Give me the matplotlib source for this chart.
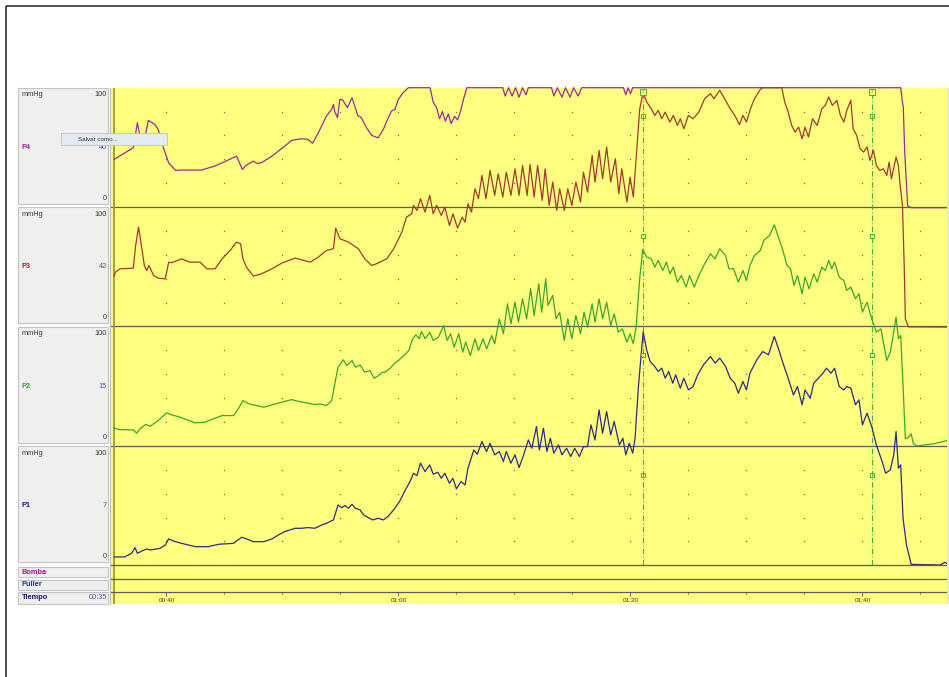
import numpy as np
import matplotlib
matplotlib.use("Agg")
import matplotlib.pyplot as plt
from matplotlib.patches import Rectangle
from matplotlib.ticker import FixedLocator, MultipleLocator

plt.rcParams['font.family'] = ['Liberation Sans', 'DejaVu Sans']

# ---------------- recorded channels: time (s) and pressure (mmHg) ----------------
P4_T = [35.5, 37.15, 37.5, 37.7, 38.2, 38.45, 39.0, 39.3, 39.7, 40.2, 40.45, 40.8, 41.2, 43.0,
        44.2, 46.05, 46.55, 46.9, 47.5, 47.8, 48.2, 49.1, 50.2, 50.8, 51.65, 52.2, 52.6, 53.1,
        53.8, 54.25, 54.4, 54.5, 54.75, 54.95, 55.2, 55.6, 56.0, 56.5, 56.8, 57.25, 57.7, 58.25,
        58.7, 59.0, 59.4, 59.7, 60.0, 60.4, 60.86, 62.73, 63.0, 63.3, 63.55, 63.8, 64.05, 64.3,
        64.55, 64.85, 65.1, 65.35, 65.6, 65.9, 69.0, 69.2, 69.5, 69.8, 70.1, 70.4, 70.7, 71.0,
        71.2, 73.2, 73.4, 73.7, 74.1, 74.4, 74.8, 75.1, 75.5, 75.8, 79.4, 79.6, 79.8, 80.0,
        80.2, 103.3, 103.45, 103.52, 103.65, 103.9, 104.2, 107.3]
P4_V = [40, 49.7, 70.7, 60.9, 60.9, 72.6, 69.3, 65, 51, 37, 34.4, 30.7, 31, 31,
        34.4, 42.7, 31.6, 35.2, 38.5, 36.6, 37.2, 42.7, 51, 55.9, 57.3, 56.7, 53.4, 62.3,
        76.3, 81.8, 86, 80.4, 74.9, 90.2, 89.7, 83.2, 91.6, 76.8, 74.9, 66.5, 60, 58,
        65, 72, 80.4, 81.8, 90.2, 95.8, 100, 100, 88, 83, 74, 80, 72, 78,
        70, 76, 73, 80, 90, 100, 100, 93, 100, 93, 100, 92, 100, 94,
        100, 100, 93, 100, 92, 100, 92, 100, 93, 100, 100, 94, 100, 95,
        100, 100, 88, 84, 45, 1, -0.5, -0.5]

P3_T = [35.5, 35.6, 36.0, 37.15, 37.35, 37.6, 37.8, 38.1, 38.3, 38.5, 38.9, 39.3, 39.9, 40.2,
        40.45, 41.3, 42.0, 42.9, 43.5, 44.2, 44.8, 45.5, 46.05, 46.4, 46.6, 46.9, 47.5, 48.2,
        49.1, 49.95, 51.1, 52.4, 53.1, 53.8, 54.4, 54.6, 54.95, 55.7, 56.55, 57.1, 57.7, 58.1,
        58.7, 59.0, 59.6, 60.3, 60.7, 61.15, 61.3, 61.6, 61.9, 62.3, 62.7, 63.0, 63.3, 63.7,
        64.0, 64.4, 64.7, 65.1, 65.5, 65.75, 66.0, 66.3, 66.6, 66.9, 67.2, 67.55, 67.9, 68.3,
        68.6, 69.0, 69.3, 69.7, 70.05, 70.4, 70.7, 71.1, 71.35, 71.7, 72.0, 72.4, 72.65, 73.0,
        73.3, 73.65, 73.9, 74.3, 74.6, 74.95, 75.3, 75.7, 75.95, 76.3, 76.7, 76.95, 77.3, 77.6,
        77.95, 78.3, 78.7, 79.0, 79.25, 79.7, 79.97, 80.25, 80.55, 80.8, 81.1, 81.4, 81.8, 82.1,
        82.4, 82.7, 83.0, 83.4, 83.7, 84.05, 84.3, 84.6, 85.0, 85.4, 85.9, 86.4, 86.9, 87.2,
        87.7, 88.2, 88.6, 89.0, 89.4, 89.7, 90.0, 90.4, 90.7, 91.2, 91.4, 93.05, 93.3, 93.6,
        93.9, 94.2, 94.5, 94.8, 95.05, 95.35, 95.7, 96.1, 96.5, 96.8, 97.1, 97.4, 97.8, 98.1,
        98.4, 98.65, 99.0, 99.2, 99.5, 99.8, 100.1, 100.4, 100.65, 100.95, 101.2, 101.5, 101.8, 102.1,
        102.3, 102.5, 102.9, 103.1, 103.25, 103.45, 103.6, 103.7, 103.96, 107.3]
P3_V = [42, 45.5, 48.3, 48.9, 67.9, 83.2, 70.7, 51.1, 46.9, 51.1, 42.7, 40.5, 39.9, 53.9,
        53.4, 56.7, 53.9, 53.9, 48.3, 48.3, 56.7, 63.7, 70.7, 69.3, 56.7, 49.7, 42.2, 44.1,
        48.3, 53.1, 57.3, 53.9, 58.1, 63.7, 65.1, 82.4, 73.5, 70.7, 65.1, 56.7, 51.1, 52.5,
        55.3, 56.7, 65.1, 79.1, 91.6, 94.4, 101.4, 97.2, 107, 95.8, 109.8, 94.4, 101.4, 93,
        100, 84.6, 94.4, 82.4, 91.6, 87.4, 102.8, 95.8, 115.4, 107, 126.5, 107, 130.7, 109.8,
        127.9, 108.4, 129.3, 109.8, 132.1, 109.8, 134.9, 109.8, 135.8, 108.4, 134.9, 105.6, 132.1, 101.4,
        121, 97.2, 115.4, 97.2, 115.4, 101.4, 121, 104.2, 129.3, 112.6, 143.3, 121, 147.5, 123.7,
        150.3, 121, 140.5, 111.2, 132.1, 104.2, 125.1, 108.4, 148.9, 182, 196.4, 188, 182.4, 176.8,
        181, 174, 179.6, 171.2, 176.8, 168.4, 174, 165.6, 176.8, 174, 179.6, 190.8, 195, 190.8,
        197.8, 189.4, 182.4, 176.8, 169, 176.8, 171.2, 183.8, 190.8, 198.6, 200, 200, 188, 179.6,
        168.4, 162.8, 167, 157.3, 167, 158.7, 174, 168.4, 182.4, 185.2, 192.2, 185.2, 189.4, 176.8,
        171.2, 181, 189.4, 165.6, 160.1, 148.9, 146.1, 150.3, 139.1, 147.5, 134.9, 130.7, 132.1, 126.5,
        137.7, 123.7, 141.9, 134.9, 118.2, 101.4, 51.1, 6.4, -0.3, -0.5]

P2_T = [35.5, 35.9, 37.15, 37.45, 37.7, 38.2, 38.6, 39.3, 40.0, 40.45, 41.0, 42.5, 43.3, 43.9,
        44.8, 45.8, 46.2, 46.6, 47.1, 47.5, 48.4, 49.4, 50.8, 51.4, 52.2, 52.8, 53.25, 53.8,
        54.25, 54.6, 54.8, 55.25, 55.55, 56.0, 56.3, 56.7, 57.1, 57.55, 57.9, 58.3, 58.6, 58.85,
        59.3, 59.7, 60.0, 60.4, 60.9, 61.2, 61.5, 61.8, 62.0, 62.3, 62.7, 63.0, 63.45, 63.9,
        64.2, 64.5, 64.8, 65.2, 65.55, 65.8, 66.2, 66.6, 66.9, 67.3, 67.6, 68.05, 68.3, 68.7,
        69.05, 69.4, 69.7, 70.05, 70.35, 70.7, 71.05, 71.4, 71.7, 72.1, 72.35, 72.7, 72.9, 73.3,
        73.6, 73.9, 74.3, 74.6, 74.95, 75.3, 75.7, 76.0, 76.3, 76.7, 76.95, 77.3, 77.6, 77.95,
        78.3, 78.6, 78.95, 79.3, 79.7, 79.97, 80.25, 80.5, 80.8, 81.06, 81.4, 81.8, 82.1, 82.4,
        82.8, 83.1, 83.4, 83.7, 84.05, 84.4, 84.8, 85.1, 85.5, 85.9, 86.4, 86.9, 87.3, 87.7,
        88.2, 88.5, 88.9, 89.3, 89.7, 90.0, 90.3, 90.7, 91.2, 91.5, 92.0, 92.4, 92.75, 93.1,
        93.5, 93.8, 94.1, 94.4, 94.8, 95.05, 95.4, 95.8, 96.1, 96.5, 96.8, 97.1, 97.35, 97.6,
        98.0, 98.4, 98.65, 99.0, 99.4, 99.7, 100.0, 100.4, 100.8, 101.2, 101.6, 101.8, 102.1, 102.4,
        102.7, 102.9, 103.1, 103.3, 103.5, 103.7, 103.96, 104.2, 104.4, 104.7, 106.1, 107.3]
P2_V = [15, 13.7, 13.4, 10.6, 14.2, 17.9, 16.5, 21.2, 27.7, 26, 24.6, 19.3, 19.8, 22.1,
        25.4, 25.4, 31, 38, 35.2, 34.4, 32.4, 35.2, 38.8, 37.2, 35.8, 34.6, 35.2, 33.8,
        38, 56.1, 65.9, 72.1, 67.3, 71.5, 65.9, 67.9, 61.7, 63.1, 56.7, 58.9, 61.7, 61.7,
        65.1, 69.6, 71.5, 75.1, 79.9, 89.1, 93, 89.7, 95.8, 89.7, 95.3, 88.3, 91.1, 100.8,
        88.3, 93.9, 82.7, 93.9, 78.5, 86.9, 75.7, 89.7, 79.9, 89.7, 81.3, 92.5, 85.5, 106.4,
        93.9, 119, 102.2, 120.4, 103.6, 123.2, 106.4, 131.6, 109.2, 135.8, 112, 140, 117.6, 126,
        106.4, 112, 88.3, 106.4, 89.7, 109.2, 93.9, 112, 99.4, 119, 103.6, 123.2, 106.4, 120.4,
        100.8, 110.6, 95.3, 98, 86.9, 93.9, 85.5, 100.8, 140, 164.5, 158.1, 156.7, 149.7, 155.3,
        146.9, 153.9, 144.1, 149.7, 137.2, 142.7, 133, 142.7, 133, 142.7, 152.5, 160.9, 156.7, 165.1,
        159.5, 148.3, 148.3, 137.2, 146.9, 138.5, 151.1, 159.5, 163.7, 172.1, 176.3, 185.2, 174.9, 165.1,
        151.1, 148.3, 134.4, 142.7, 127.4, 141.3, 131.6, 144.1, 137.2, 149.7, 146.9, 155.3, 148.3, 153.9,
        141.3, 138.5, 130.2, 133, 123.2, 127.4, 112, 120.4, 106.4, 95.3, 98, 86.9, 71.5, 78.5,
        95.3, 107.8, 89.7, 92.5, 50.6, 5.9, 7.3, 10.1, 1.7, 0, 1.7, 4.5]

P1_T = [35.5, 36.4, 37.0, 37.3, 37.5, 37.9, 38.3, 38.6, 39.45, 39.9, 40.2, 40.6, 41.3, 42.5,
        43.6, 44.5, 45.8, 46.05, 46.5, 46.9, 47.5, 48.4, 49.1, 49.65, 50.2, 51.1, 51.65, 52.2,
        52.8, 53.4, 53.8, 54.4, 54.8, 55.1, 55.4, 55.7, 56.0, 56.3, 56.7, 57.0, 57.4, 57.8,
        58.25, 58.7, 59.1, 59.7, 60.1, 60.6, 61.0, 61.3, 61.6, 61.9, 62.3, 62.7, 63.0, 63.4,
        63.7, 64.0, 64.4, 64.7, 65.0, 65.4, 65.75, 66.0, 66.5, 66.8, 67.2, 67.6, 67.9, 68.3,
        68.7, 69.05, 69.3, 69.7, 70.05, 70.4, 70.8, 71.2, 71.5, 71.9, 72.15, 72.5, 72.8, 73.1,
        73.4, 73.8, 74.1, 74.5, 74.85, 75.2, 75.6, 75.95, 76.3, 76.6, 76.95, 77.3, 77.6, 77.95,
        78.3, 78.6, 79.05, 79.35, 79.6, 79.9, 80.2, 80.4, 80.7, 81.1, 81.4, 81.7, 82.1, 82.4,
        82.7, 83.0, 83.3, 83.65, 83.9, 84.3, 84.6, 85.0, 85.4, 85.8, 86.3, 86.9, 87.3, 87.7,
        88.2, 88.6, 89.0, 89.3, 89.7, 90.0, 90.3, 90.9, 91.4, 91.9, 92.4, 92.75, 93.2, 93.6,
        94.05, 94.4, 94.8, 95.05, 95.5, 95.8, 96.2, 96.6, 96.9, 97.3, 97.6, 98.0, 98.4, 98.65,
        99.0, 99.4, 99.7, 100.0, 100.4, 100.8, 101.2, 101.7, 102.0, 102.4, 102.7, 102.9, 103.1, 103.3,
        103.5, 103.8, 104.0, 104.2, 106.7, 107.1, 107.3]
P1_V = [7, 7, 10, 14.8, 10, 12, 13.7, 12.8, 14.2, 17, 22.1, 20.4, 18.4, 15.6,
        15.6, 17.6, 18.4, 20.4, 23.5, 22.1, 19.8, 19.8, 22.1, 25.4, 28.2, 31, 31, 31.6,
        31, 33.8, 35.2, 38, 50.6, 48.3, 50, 47.8, 51.1, 47.8, 46.4, 42.2, 39.9, 38,
        39.4, 38, 40.8, 47.8, 53.4, 63.1, 70.1, 77.1, 75.1, 85.5, 78.5, 84.1, 76.3, 77.9,
        72.9, 77.1, 68.7, 72.9, 64, 70.1, 67.3, 81.3, 96.6, 93, 103.6, 95.3, 102.2, 92.5,
        95.3, 86.9, 95.3, 85.5, 92.5, 81.8, 92.5, 105, 98, 116.2, 96.6, 114.8, 95.3, 106.4,
        93.9, 100.8, 92.5, 98, 91.1, 98, 91.1, 99.4, 99.4, 117.6, 105, 130.2, 110.6, 128.8,
        109.2, 120.4, 100.8, 106.4, 92.5, 102.2, 93.9, 106.4, 151.1, 195.5, 180.4, 170.7, 166.5, 162.3,
        165.1, 156.7, 162.3, 152.5, 159.5, 148.3, 156.7, 146.9, 149.7, 159.5, 167.9, 174.9, 169.3, 173.5,
        166.5, 156.7, 152.5, 144.1, 153.9, 146.9, 160.9, 172.1, 179, 176.3, 191.6, 181.8, 167.9, 156.7,
        142.7, 149.7, 134.4, 146.9, 139.9, 152.5, 156.7, 160.9, 165.1, 160.9, 165.1, 149.7, 146.9, 149.7,
        148.3, 134.4, 138.5, 117.6, 127.4, 116.2, 100.8, 86.9, 77.1, 79.9, 92.5, 112, 81.3, 84.1,
        39.4, 17, 8.7, 0.8, 0.3, 2.5, 1.4]

CHANNELS = ["P4", "P3", "P2", "P1"]          # top to bottom
TRACES = {"P4": (P4_T, P4_V), "P3": (P3_T, P3_V), "P2": (P2_T, P2_V), "P1": (P1_T, P1_V)}
RANGE_MAX = 100
GRID_LEVELS = [20, 40, 60, 80]
EVENT_TIMES = [81.05, 100.8]
EVENT_LEVEL = 76
EVENT_TAG = "1"
CURSOR_TIME = 35.5
VIEW_START, VIEW_END = 35.14, 107.29
MAJOR_TICKS = [40, 60, 80, 100]
TICK_LABELS = ["00:40", "01:00", "01:20", "01:40"]
START_LABEL = "00:35"
UNIT = "mmHg"
EXTRA_ROWS = ["Bomba", "Puller", "Tiempo"]
MENU_TEXT = "Salvar como..."

TRACE_COLORS = {"P4": "#972c97", "P3": "#a03a2c", "P2": "#3aa62a", "P1": "#2b2b82"}
LABEL_COLORS = {"P4": "#b8179f", "P3": "#b0182c", "P2": "#2f9e2f", "P1": "#1c1c8c"}
ROW_COLORS = {"Bomba": "#9b1b8b", "Puller": "#1f2f8f", "Tiempo": "#1b1b6b"}
YELLOW = "#ffff80"
LINE = "#5c5c5c"
EVT_GREEN = "#46b03c"
VALUE_COL = "#5252a0"
TEXT_COL = "#3a3a3a"

# ---------------- layout (pixels) ----------------
W, H = 949, 677
X0, X1 = 110.0, 947.0
Y_TOP, Y_P1 = 87.7, 565.3
Y_ROWS = [565.3, 578.5, 591.8, 604.0]
PANEL_H = (Y_P1 - Y_TOP) / len(CHANNELS)


def frac_rect(x0, y0, x1, y1):
    return [x0 / W, 1 - y1 / H, (x1 - x0) / W, (y1 - y0) / H]


fig = plt.figure(figsize=(W / 100, H / 100), dpi=100)
fig.patch.set_facecolor("white")

# ---------------- stacked pressure panels ----------------
ax = fig.add_axes(frac_rect(X0, Y_TOP, X1, Y_P1))
ax.set_facecolor(YELLOW)
ax.set_xlim(VIEW_START, VIEW_END)
top_val = len(CHANNELS) * RANGE_MAX
ax.set_ylim(0, top_val)
for s in ax.spines.values():
    s.set_visible(False)
ax.set_xticks([])
ax.set_yticks([])
for k in range(1, len(CHANNELS)):
    ax.axhline(k * RANGE_MAX, color=LINE, lw=0.9, zorder=1)

grid_t = np.arange(MAJOR_TICKS[0], VIEW_END, 5)
for k in range(len(CHANNELS)):
    for lvl in GRID_LEVELS:
        ax.plot(grid_t, np.full(grid_t.size, k * RANGE_MAX + lvl), ls="none", marker="s",
                ms=0.9, mew=0, color="#6a6a6a", zorder=1)

for i, name in enumerate(CHANNELS):
    base = (len(CHANNELS) - 1 - i) * RANGE_MAX
    t, v = TRACES[name]
    if len(t) != len(v):
        raise ValueError(f"{name}: {len(t)} times vs {len(v)} values")
    y = np.minimum(base + np.asarray(v, float), top_val)
    ax.plot(t, y, color=TRACE_COLORS[name], lw=0.9, zorder=3 + i * 0.1,
            solid_joinstyle="round", clip_on=False)

for et in EVENT_TIMES:
    ax.axvline(et, color=EVT_GREEN, lw=0.8, ls=(0, (5, 2, 1, 2)), zorder=2)
    ax.plot([et] * len(CHANNELS), [k * RANGE_MAX + EVENT_LEVEL for k in range(len(CHANNELS))],
            ls="none", marker="s", ms=2.8, mfc="none", mec=EVT_GREEN, mew=0.7, zorder=5)
    ax.plot(et, top_val - 3.7, marker="s", ms=4.6, mfc=YELLOW, mec=EVT_GREEN, mew=0.7,
            zorder=5, clip_on=False)
    ax.text(et, top_val - 3.7, EVENT_TAG, fontsize=3.2, ha="center", va="center",
            color=EVT_GREEN, zorder=6)

ax.axvline(CURSOR_TIME, color="#9c9c58", lw=1.4, zorder=2)

# ---------------- auxiliary rows (Bomba, Puller, Tiempo) ----------------
row_axes = []
for j in range(len(EXTRA_ROWS)):
    a = fig.add_axes(frac_rect(X0, Y_ROWS[j], X1, Y_ROWS[j + 1]))
    a.set_facecolor(YELLOW)
    a.set_xlim(VIEW_START, VIEW_END)
    a.set_ylim(0, 1)
    for side, s in a.spines.items():
        s.set_visible(side == "top")
    a.spines["top"].set_color(LINE)
    a.spines["top"].set_linewidth(0.9)
    a.set_yticks([])
    a.axvline(CURSOR_TIME, color="#9c9c58", lw=1.4, zorder=2)
    row_axes.append(a)
for a in row_axes[:-1]:
    a.set_xticks([])

ax_time = row_axes[-1]
ax_time.xaxis.set_major_locator(FixedLocator(MAJOR_TICKS))
ax_time.set_xticklabels(TICK_LABELS)
ax_time.xaxis.set_minor_locator(MultipleLocator(5))
ax_time.tick_params(axis="x", which="both", direction="in", top=True, bottom=False,
                    labeltop=False, labelbottom=True, color="#555555", width=0.6)
ax_time.tick_params(axis="x", which="major", length=2.8, pad=-4.3, labelsize=4.6,
                    labelcolor=TEXT_COL)
ax_time.tick_params(axis="x", which="minor", length=1.2)

# ---------------- frame, channel headers and context menu ----------------
ov = fig.add_axes([0, 0, 1, 1], zorder=10)
ov.set_xlim(0, W)
ov.set_ylim(H, 0)
ov.axis("off")

ov.plot([5.8, 5.8], [5.8, H], color="#1e1e1e", lw=1.1, solid_capstyle="butt")
ov.plot([5.8, W], [5.8, 5.8], color="#1e1e1e", lw=1.1, solid_capstyle="butt")
ov.add_patch(Rectangle((X1, Y_TOP), W - X1, Y_ROWS[-1] - Y_TOP, facecolor="#e4e4e4",
                       edgecolor="none"))
ov.plot([109.8, 109.8], [Y_TOP, Y_ROWS[-1]], color="#bdbdbd", lw=0.8)

fs = 5.3
for i, name in enumerate(CHANNELS):
    top = Y_TOP + i * PANEL_H
    ov.add_patch(Rectangle((18.5, top), 90, PANEL_H - 3.2, facecolor="#efefef",
                           edgecolor="#c4c4c4", lw=0.8))
    t, v = TRACES[name]
    cur = np.interp(CURSOR_TIME, t, v)
    ov.text(22, top + 7.3, UNIT, fontsize=fs, color=TEXT_COL, ha="left", va="center")
    ov.text(107, top + 7.3, f"{RANGE_MAX}", fontsize=fs, color=TEXT_COL, ha="right", va="center")
    ov.text(22, top + 59.6, name, fontsize=fs, color=LABEL_COLORS[name], weight="bold",
            ha="left", va="center")
    ov.text(107, top + 59.6, f"{cur:.0f}", fontsize=fs, color=VALUE_COL, ha="right", va="center")
    ov.text(107, top + 110.8, "0", fontsize=fs, color=TEXT_COL, ha="right", va="center")

row_boxes = [(567.0, 577.0), (580.0, 589.5), (592.0, 603.5)]
for name, (y0, y1) in zip(EXTRA_ROWS, row_boxes):
    ov.add_patch(Rectangle((18.5, y0), 90, y1 - y0, facecolor="#efefef",
                           edgecolor="#c4c4c4", lw=0.8))
    ov.text(22, (y0 + y1) / 2, name, fontsize=fs, color=ROW_COLORS[name], weight="bold",
            ha="left", va="center")
ov.text(107, sum(row_boxes[-1]) / 2, START_LABEL, fontsize=fs, color=VALUE_COL,
        ha="right", va="center")

# context menu popup sits just above the P4 cursor value
ov.add_patch(Rectangle((61, 133.3), 106, 11.8, facecolor="#e3ebf2", edgecolor="#b5c5d3",
                       lw=0.6, zorder=20))
ov.text(78, 139.2, MENU_TEXT, fontsize=4.5, color="#333333", ha="left", va="center", zorder=21)

fig.savefig("out.png", dpi=100, facecolor="white")
